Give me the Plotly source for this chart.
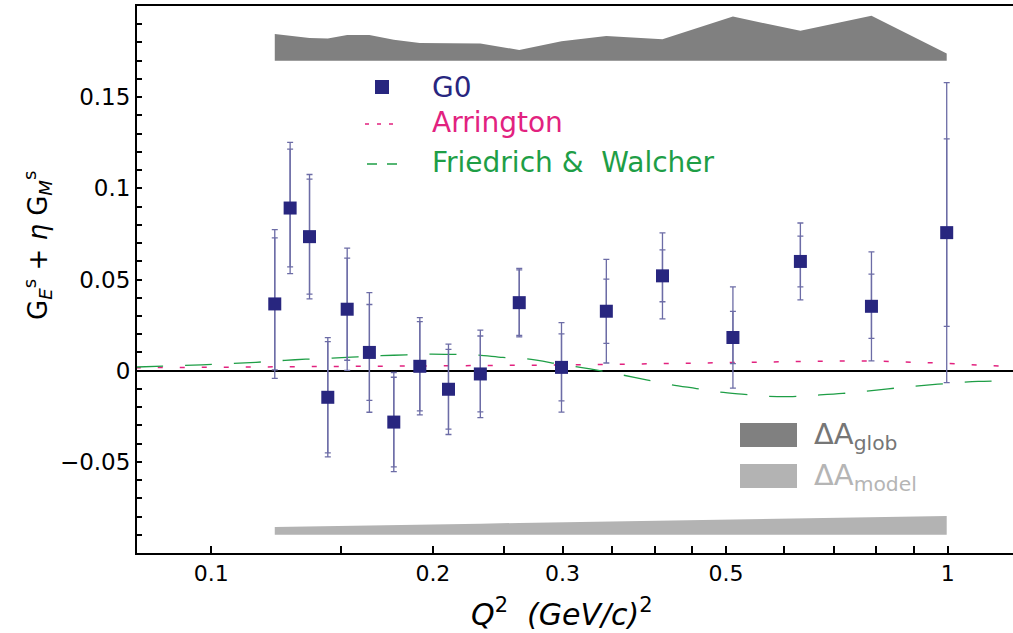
import plotly.graph_objects as go

# ---------------- data ----------------
Q2 = [0.122, 0.128, 0.136, 0.144, 0.153, 0.164, 0.177, 0.192, 0.210,
      0.232, 0.262, 0.299, 0.344, 0.410, 0.511, 0.631, 0.788, 0.997]
G_sum = [0.0366, 0.0892, 0.0735, -0.0146, 0.0337, 0.0100, -0.0282, 0.0024, -0.0102,
         -0.0018, 0.0373, 0.0018, 0.0326, 0.0520, 0.0182, 0.0599, 0.0353, 0.0757]
err_stat = [0.0362, 0.0323, 0.0315, 0.0305, 0.0280, 0.0263, 0.0246, 0.0245, 0.0219,
            0.0208, 0.0180, 0.0184, 0.0176, 0.0142, 0.0143, 0.0139, 0.0176, 0.0514]
err_tot = [0.0408, 0.0360, 0.0341, 0.0327, 0.0335, 0.0328, 0.0272, 0.0267, 0.0248,
           0.0240, 0.0188, 0.0245, 0.0284, 0.0236, 0.0278, 0.0211, 0.0299, 0.0823]

glob_base = 0.170
d_glob = [0.0146, 0.0135, 0.0124, 0.0122, 0.0141, 0.0141, 0.0115, 0.0097, 0.0096,
          0.0095, 0.0059, 0.0106, 0.0135, 0.0117, 0.0242, 0.0164, 0.0246, 0.0040]
model_base = -0.090
d_model = [0.0043, 0.0044, 0.0046, 0.0048, 0.0049, 0.0051, 0.0053, 0.0056, 0.0058,
           0.0061, 0.0065, 0.0069, 0.0073, 0.0078, 0.0084, 0.0090, 0.0096, 0.0103]

Q_arr = [0.079, 0.1, 0.12, 0.15, 0.2, 0.25, 0.3, 0.4, 0.5, 0.6, 0.7, 0.8, 0.9, 1.0, 1.1, 1.225]
arrington = [0.0016, 0.0018, 0.0020, 0.0022, 0.0025, 0.0028, 0.0031, 0.0038, 0.0045,
             0.0050, 0.0053, 0.0053, 0.0048, 0.0040, 0.0030, 0.0022]

Q_fw = [0.079, 0.097, 0.115, 0.13, 0.146, 0.158, 0.17, 0.184, 0.198, 0.215, 0.23, 0.249,
        0.268, 0.30, 0.337, 0.36, 0.39, 0.42, 0.456, 0.487, 0.53, 0.568, 0.616, 0.66,
        0.72, 0.766, 0.83, 0.89, 0.97, 1.04, 1.1, 1.225]
friedrich = [0.0020, 0.0032, 0.0046, 0.0060, 0.0069, 0.0076, 0.0082, 0.0087, 0.0091,
             0.0089, 0.0086, 0.0073, 0.0065, 0.0033, 0.0000, -0.0022, -0.0050, -0.0076,
             -0.0098, -0.0116, -0.0130, -0.0140, -0.0142, -0.0135, -0.0125, -0.0115,
             -0.0100, -0.0087, -0.0074, -0.0065, -0.0059, -0.0055]

x_tickvals = [0.1, 0.2, 0.3, 0.5, 1.0]
x_ticktext = ["0.1", "0.2", "0.3", "0.5", "1"]
x_minor = [0.15, 0.25, 0.35, 0.4, 0.45, 0.6, 0.7, 0.8, 0.9]
y_tickvals = [-0.05, 0.0, 0.05, 0.1, 0.15]
y_ticktext = ["\u22120.05", "0", "0.05", "0.1", "0.15"]

# ---------------- colours / fonts ----------------
FONT = "DejaVu Sans"
C_G0 = "#28267f"
C_ERR = "#6c6ca6"
C_ARR = "#e2227f"
C_FW = "#1e9e46"
C_GLOB = "#808080"
C_MODEL = "#b3b3b3"

W, H = 1013, 633
ML, MR, MT, MB = 137, 0, 6, 80
PW, PH = W - ML - MR, H - MT - MB


def px(x):
    return (x - ML) / PW


def py(y):
    return (H - MB - y) / PH


fig = go.Figure()

# global uncertainty band (top)
fig.add_trace(go.Scatter(x=Q2, y=[glob_base] * len(Q2), mode="lines",
                         line=dict(width=0, color=C_GLOB), showlegend=False, hoverinfo="skip"))
fig.add_trace(go.Scatter(x=Q2, y=[glob_base + d for d in d_glob], mode="lines",
                         line=dict(width=0, color=C_GLOB), fill="tonexty", fillcolor=C_GLOB,
                         showlegend=False, hoverinfo="skip"))
# model uncertainty band (bottom)
fig.add_trace(go.Scatter(x=Q2, y=[model_base] * len(Q2), mode="lines",
                         line=dict(width=0, color=C_MODEL), showlegend=False, hoverinfo="skip"))
fig.add_trace(go.Scatter(x=Q2, y=[model_base + d for d in d_model], mode="lines",
                         line=dict(width=0, color=C_MODEL), fill="tonexty", fillcolor=C_MODEL,
                         showlegend=False, hoverinfo="skip"))

# theory curves
fig.add_trace(go.Scatter(x=Q_arr, y=arrington, mode="lines",
                         line=dict(color=C_ARR, width=1.5, dash="5px,17px"),
                         showlegend=False))
fig.add_trace(go.Scatter(x=Q_fw, y=friedrich, mode="lines",
                         line=dict(color=C_FW, width=1.3, dash="27px,22px", shape="spline"),
                         showlegend=False))

# total error bars
fig.add_trace(go.Scatter(x=Q2, y=G_sum, mode="markers",
                         marker=dict(size=1, color="rgba(0,0,0,0)"),
                         error_y=dict(type="data", array=err_tot, visible=True,
                                      color=C_ERR, thickness=1.3, width=3),
                         showlegend=False))
# statistical error bars + points
fig.add_trace(go.Scatter(x=Q2, y=G_sum, mode="markers",
                         marker=dict(symbol="square", size=13, color=C_G0,
                                     line=dict(width=0)),
                         error_y=dict(type="data", array=err_stat, visible=True,
                                      color=C_ERR, thickness=1.3, width=3),
                         showlegend=False))

fig.update_layout(
    width=W, height=H,
    margin=dict(l=ML, r=MR, t=MT, b=MB, pad=0),
    paper_bgcolor="white", plot_bgcolor="white",
    font=dict(family=FONT, color="black", size=22),
    showlegend=False,
    xaxis=dict(type="log", range=[-1.1007, 0.0887],
               tickmode="array", tickvals=x_tickvals, ticktext=x_ticktext,
               ticks="inside", ticklen=7, tickwidth=1.5, tickcolor="black",
               minor=dict(tickmode="array", tickvals=x_minor, ticks="inside",
                          ticklen=7, tickwidth=1.5, tickcolor="black", showgrid=False),
               showline=True, linecolor="black", linewidth=2, mirror=True,
               showgrid=False, zeroline=False,
               tickfont=dict(size=22, family=FONT)),
    yaxis=dict(range=[-0.1, 0.2], tickmode="array",
               tickvals=y_tickvals, ticktext=y_ticktext,
               ticks="inside", ticklen=5, tickwidth=1.5, tickcolor="black",
               minor=dict(tick0=0, dtick=0.01, ticks="inside", ticklen=5,
                          tickwidth=1.5, tickcolor="black", showgrid=False),
               showline=True, linecolor="black", linewidth=2, mirror=False,
               showgrid=False, zeroline=True, zerolinecolor="black", zerolinewidth=2,
               tickfont=dict(size=23, family=FONT)),
)

shapes = []
annotations = []

# legend: G0 marker
shapes.append(dict(type="rect", xref="paper", yref="paper",
                   x0=px(375), x1=px(389), y0=py(94), y1=py(80),
                   fillcolor=C_G0, line=dict(width=0)))
# legend: Arrington short dashes
shapes.append(dict(type="line", xref="paper", yref="paper",
                   x0=px(365), x1=px(398), y0=py(124), y1=py(124),
                   line=dict(color=C_ARR, width=1.5, dash="4px,8px")))
# legend: Friedrich dashes
shapes.append(dict(type="line", xref="paper", yref="paper",
                   x0=px(367), x1=px(398), y0=py(164), y1=py(164),
                   line=dict(color=C_FW, width=1.5, dash="10px,10px")))
# delta A legend boxes
shapes.append(dict(type="rect", xref="paper", yref="paper",
                   x0=px(740), x1=px(797), y0=py(447), y1=py(423),
                   fillcolor=C_GLOB, line=dict(width=0)))
shapes.append(dict(type="rect", xref="paper", yref="paper",
                   x0=px(740), x1=px(797), y0=py(488), y1=py(464),
                   fillcolor=C_MODEL, line=dict(width=0)))

for txt, col, yc in [("G0", C_G0, 87), ("Arrington", C_ARR, 122),
                     ("Friedrich &amp;  Walcher", C_FW, 162)]:
    annotations.append(dict(xref="paper", yref="paper", x=px(430), y=py(yc),
                            xanchor="left", yanchor="middle", showarrow=False,
                            text=txt, font=dict(family=FONT, size=28, color=col)))

annotations.append(dict(xref="paper", yref="paper", x=px(812), y=py(436),
                        xanchor="left", yanchor="middle", showarrow=False,
                        text="\u0394A<sub>glob</sub>",
                        font=dict(family=FONT, size=29, color="#767676")))
annotations.append(dict(xref="paper", yref="paper", x=px(812), y=py(477),
                        xanchor="left", yanchor="middle", showarrow=False,
                        text="\u0394A<sub>model</sub>",
                        font=dict(family=FONT, size=29, color="#b5b5b5")))

# axis titles
annotations.append(dict(xref="paper", yref="paper", x=px(562), y=py(612),
                        xanchor="center", yanchor="middle", showarrow=False,
                        text="<i>Q</i><sup>2</sup>  <i>(GeV/c)</i><sup>2</sup>",
                        font=dict(family=FONT, size=30, color="black")))
annotations.append(dict(xref="paper", yref="paper", x=px(38), y=py(245),
                        xanchor="center", yanchor="middle", showarrow=False,
                        textangle=-90,
                        text="G<sub><i>E</i></sub><sup>s</sup> + <i>\u03b7</i> G<sub><i>M</i></sub><sup>s</sup>",
                        font=dict(family=FONT, size=26, color="black")))

fig.update_layout(shapes=shapes, annotations=annotations)

fig.write_html("out.html", config={"displayModeBar": False},
               post_script="document.body.style.margin='0';document.body.style.padding='0';")
